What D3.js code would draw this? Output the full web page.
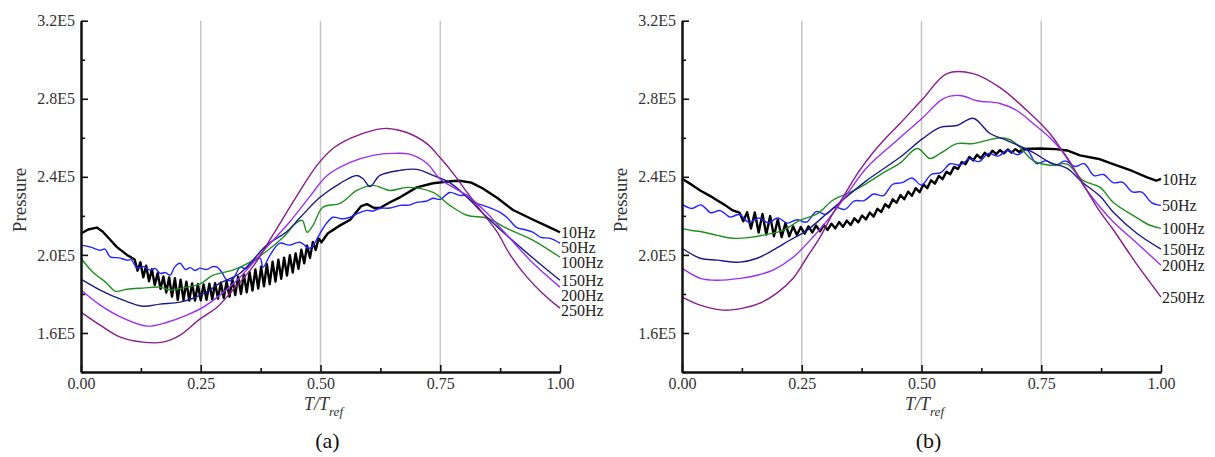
<!DOCTYPE html>
<html>
<head>
<meta charset="utf-8">
<script src="https://cdn.jsdelivr.net/npm/d3@7"></script>
<style>
  body { margin: 0; background: #fff; }
  svg { display: block; }
  text { font-family: "Liberation Serif", "Times New Roman", "DejaVu Serif", serif; }
</style>
</head>
<body>
<div id="chart"></div>
<script>
// pressure values are in units of 1E5, time is T/Tref
const seriesNames = ['10Hz', '50Hz', '100Hz', '150Hz', '200Hz', '250Hz'];
const xMajorTicks = [0, 0.25, 0.5, 0.75, 1];
const xMinorTicks = [0.125, 0.375, 0.625, 0.875];
const xGridLines = [0.25, 0.5, 0.75];
const yMajorTicks = [1.6, 2.0, 2.4, 2.8, 3.2];
const yMinorTicks = [1.4, 1.8, 2.2, 2.6, 3.0];
const panelTags = ['(a)', '(b)'];

// ---- panel (a)
const a10 = [
  [0, 2.11], [0.015, 2.13], [0.033, 2.14], [0.045, 2.12], [0.06, 2.08], [0.075, 2.04], [0.096, 2.0],
  [0.112, 1.976], [0.118, 1.919], [0.124, 1.962], [0.130, 1.885], [0.136, 1.945], [0.142, 1.865],
  [0.148, 1.926], [0.154, 1.846], [0.160, 1.906], [0.166, 1.826], [0.172, 1.889], [0.178, 1.807],
  [0.184, 1.885], [0.190, 1.787], [0.196, 1.881], [0.202, 1.770], [0.208, 1.873], [0.214, 1.768],
  [0.220, 1.863], [0.226, 1.766], [0.232, 1.854], [0.238, 1.766], [0.244, 1.850], [0.250, 1.767],
  [0.256, 1.849], [0.262, 1.770], [0.268, 1.852], [0.274, 1.773], [0.280, 1.855], [0.286, 1.776],
  [0.292, 1.858], [0.298, 1.779], [0.304, 1.864], [0.310, 1.786], [0.316, 1.876], [0.322, 1.794],
  [0.328, 1.888], [0.334, 1.800], [0.340, 1.900], [0.346, 1.808], [0.352, 1.912], [0.358, 1.817],
  [0.364, 1.925], [0.370, 1.828], [0.376, 1.939], [0.382, 1.839], [0.388, 1.952], [0.394, 1.850],
  [0.400, 1.965], [0.406, 1.863], [0.412, 1.976], [0.418, 1.878], [0.424, 1.986], [0.430, 1.894],
  [0.436, 1.998], [0.442, 1.909], [0.448, 2.008], [0.454, 1.929], [0.460, 2.027], [0.466, 1.957],
  [0.472, 2.047], [0.478, 1.985], [0.484, 2.066], [0.490, 2.025], [0.496, 2.084], [0.502, 2.065],
  [0.515, 2.11], [0.54, 2.15], [0.562, 2.18], [0.585, 2.25], [0.597, 2.26], [0.612, 2.24],
  [0.624, 2.24], [0.645, 2.27], [0.666, 2.295], [0.701, 2.346], [0.735, 2.367], [0.77, 2.377],
  [0.79, 2.38], [0.815, 2.37], [0.839, 2.34], [0.87, 2.29], [0.902, 2.23], [0.944, 2.18],
  [0.975, 2.145], [1, 2.116]
];
const a50 = [
  [0, 2.05], [0.02, 2.04], [0.04, 2.024], [0.05, 2.03], [0.061, 1.99], [0.08, 1.985], [0.096, 1.973],
  [0.105, 1.975], [0.117, 1.932], [0.13, 1.94], [0.144, 1.922], [0.155, 1.93], [0.165, 1.905],
  [0.176, 1.91], [0.186, 1.896], [0.196, 1.94], [0.207, 1.957], [0.218, 1.925], [0.228, 1.935],
  [0.238, 1.92], [0.248, 1.932], [0.262, 1.925], [0.275, 1.94], [0.284, 1.937], [0.294, 1.911],
  [0.305, 1.87], [0.317, 1.875], [0.325, 1.91], [0.332, 1.937], [0.345, 1.93], [0.36, 1.965],
  [0.374, 1.983], [0.38, 1.937], [0.395, 2.0], [0.415, 2.06], [0.435, 2.05], [0.457, 2.065],
  [0.478, 2.034], [0.499, 2.11], [0.512, 2.16], [0.526, 2.193], [0.545, 2.185], [0.562, 2.193],
  [0.58, 2.215], [0.597, 2.228], [0.61, 2.225], [0.624, 2.239], [0.645, 2.24], [0.666, 2.254],
  [0.685, 2.255], [0.701, 2.269], [0.72, 2.275], [0.735, 2.29], [0.75, 2.285], [0.77, 2.32],
  [0.79, 2.305], [0.806, 2.305], [0.82, 2.27], [0.839, 2.254], [0.855, 2.24], [0.875, 2.218],
  [0.89, 2.19], [0.91, 2.14], [0.925, 2.13], [0.944, 2.116], [0.96, 2.09], [0.98, 2.085], [1, 2.06]
];
const a100 = [
  [0, 1.983], [0.025, 1.911], [0.054, 1.855], [0.071, 1.814], [0.096, 1.824], [0.129, 1.83],
  [0.165, 1.835], [0.186, 1.82], [0.221, 1.835], [0.248, 1.85], [0.276, 1.896], [0.317, 1.922],
  [0.353, 1.963], [0.388, 2.02], [0.422, 2.09], [0.45, 2.165], [0.462, 2.177], [0.472, 2.116],
  [0.484, 2.15], [0.505, 2.244], [0.541, 2.264], [0.576, 2.33], [0.61, 2.356], [0.645, 2.33],
  [0.681, 2.346], [0.735, 2.32], [0.77, 2.254], [0.806, 2.203], [0.848, 2.188], [0.889, 2.136],
  [0.944, 2.075], [1, 1.988]
];
const a150 = [
  [0, 1.876], [0.04, 1.82], [0.088, 1.768], [0.129, 1.737], [0.165, 1.748], [0.207, 1.758],
  [0.234, 1.778], [0.263, 1.81], [0.29, 1.855], [0.332, 1.906], [0.388, 2.05], [0.43, 2.12],
  [0.457, 2.19], [0.499, 2.295], [0.541, 2.367], [0.576, 2.407], [0.589, 2.39], [0.603, 2.35],
  [0.624, 2.407], [0.666, 2.433], [0.701, 2.438], [0.735, 2.407], [0.77, 2.37], [0.806, 2.295],
  [0.839, 2.213], [0.875, 2.13], [0.944, 1.983], [1, 1.87]
];
const a200 = [
  [0, 1.82], [0.04, 1.743], [0.088, 1.676], [0.138, 1.635], [0.18, 1.655], [0.221, 1.691],
  [0.255, 1.732], [0.29, 1.794], [0.332, 1.886], [0.388, 2.04], [0.436, 2.17], [0.478, 2.30],
  [0.514, 2.407], [0.562, 2.474], [0.61, 2.51], [0.651, 2.52], [0.687, 2.515], [0.722, 2.47],
  [0.749, 2.39], [0.777, 2.346], [0.806, 2.305], [0.848, 2.213], [0.875, 2.14], [0.944, 1.957],
  [1, 1.835]
];
const a250 = [
  [0, 1.707], [0.04, 1.64], [0.081, 1.58], [0.129, 1.553], [0.171, 1.553], [0.207, 1.589],
  [0.248, 1.671], [0.284, 1.732], [0.317, 1.82], [0.359, 1.94], [0.40, 2.10], [0.45, 2.30],
  [0.493, 2.46], [0.526, 2.545], [0.562, 2.597], [0.61, 2.638], [0.639, 2.648], [0.68, 2.627],
  [0.722, 2.57], [0.749, 2.5], [0.777, 2.418], [0.806, 2.32], [0.839, 2.213], [0.868, 2.12],
  [0.896, 2.0], [0.931, 1.886], [0.965, 1.8], [1, 1.727]
];

// ---- panel (b)
const b10 = [
  [0, 2.39], [0.02, 2.36], [0.038, 2.33], [0.06, 2.30], [0.073, 2.28], [0.09, 2.255], [0.106, 2.228],
  [0.120, 2.217], [0.128, 2.172], [0.136, 2.219], [0.144, 2.135], [0.152, 2.217], [0.160, 2.115],
  [0.168, 2.210], [0.176, 2.104], [0.184, 2.199], [0.192, 2.095], [0.200, 2.183], [0.208, 2.091],
  [0.216, 2.163], [0.224, 2.095], [0.232, 2.146], [0.240, 2.102], [0.248, 2.143], [0.256, 2.109],
  [0.264, 2.146], [0.272, 2.115], [0.280, 2.150], [0.288, 2.121], [0.296, 2.153], [0.304, 2.128],
  [0.312, 2.160], [0.320, 2.136], [0.328, 2.168], [0.336, 2.144], [0.344, 2.176], [0.352, 2.153],
  [0.360, 2.188], [0.368, 2.167], [0.376, 2.202], [0.384, 2.182], [0.392, 2.217], [0.400, 2.196],
  [0.408, 2.236], [0.416, 2.220], [0.424, 2.260], [0.432, 2.243], [0.440, 2.285], [0.448, 2.267],
  [0.456, 2.307], [0.464, 2.285], [0.472, 2.324], [0.480, 2.303], [0.488, 2.342], [0.496, 2.321],
  [0.504, 2.361], [0.512, 2.342], [0.520, 2.382], [0.528, 2.365], [0.536, 2.404], [0.544, 2.388],
  [0.552, 2.426], [0.560, 2.413], [0.568, 2.451], [0.576, 2.440], [0.584, 2.476], [0.592, 2.465],
  [0.600, 2.502], [0.608, 2.484], [0.616, 2.513], [0.624, 2.495], [0.632, 2.523], [0.640, 2.507],
  [0.648, 2.534], [0.656, 2.516], [0.664, 2.537], [0.672, 2.520], [0.680, 2.540], [0.688, 2.524],
  [0.696, 2.542], [0.704, 2.527], [0.712, 2.543],
  [0.747, 2.545], [0.78, 2.542], [0.804, 2.535], [0.831, 2.51], [0.873, 2.49], [0.9, 2.465],
  [0.94, 2.43], [0.971, 2.397], [0.99, 2.38], [1, 2.39]
];
const b50 = [
  [0, 2.26], [0.02, 2.238], [0.04, 2.256], [0.06, 2.216], [0.08, 2.227], [0.10, 2.194], [0.12, 2.207],
  [0.14, 2.166], [0.16, 2.189], [0.18, 2.165], [0.20, 2.189], [0.22, 2.163], [0.24, 2.18],
  [0.26, 2.168], [0.28, 2.222], [0.30, 2.208], [0.32, 2.244], [0.34, 2.233], [0.36, 2.277],
  [0.38, 2.278], [0.40, 2.312], [0.42, 2.303], [0.44, 2.362], [0.46, 2.37], [0.48, 2.394],
  [0.50, 2.358], [0.52, 2.412], [0.54, 2.421], [0.56, 2.467], [0.58, 2.46], [0.60, 2.492],
  [0.62, 2.478], [0.64, 2.52], [0.66, 2.506], [0.68, 2.537], [0.70, 2.513], [0.72, 2.537],
  [0.74, 2.468], [0.76, 2.482], [0.78, 2.458], [0.80, 2.482], [0.82, 2.453], [0.84, 2.467],
  [0.86, 2.406], [0.88, 2.412], [0.90, 2.37], [0.92, 2.372], [0.94, 2.323], [0.96, 2.322],
  [0.98, 2.268], [1, 2.254]
];
const b100 = [
  [0, 2.136], [0.02, 2.125], [0.038, 2.12], [0.073, 2.1], [0.106, 2.085], [0.142, 2.09],
  [0.177, 2.105], [0.211, 2.126], [0.246, 2.177], [0.282, 2.21], [0.315, 2.28], [0.351, 2.32],
  [0.386, 2.367], [0.42, 2.42], [0.455, 2.47], [0.491, 2.545], [0.518, 2.494], [0.539, 2.52],
  [0.574, 2.57], [0.608, 2.57], [0.637, 2.587], [0.664, 2.6], [0.685, 2.59], [0.706, 2.55],
  [0.733, 2.484], [0.768, 2.459], [0.804, 2.465], [0.837, 2.382], [0.873, 2.346], [0.9, 2.27],
  [0.95, 2.19], [0.977, 2.152], [1, 2.136]
];
const b150 = [
  [0, 2.034], [0.038, 1.983], [0.073, 1.973], [0.121, 1.963], [0.157, 1.983], [0.19, 2.024],
  [0.225, 2.075], [0.261, 2.126], [0.303, 2.213], [0.33, 2.27], [0.386, 2.382], [0.455, 2.5],
  [0.503, 2.597], [0.539, 2.653], [0.574, 2.663], [0.608, 2.7], [0.643, 2.622], [0.678, 2.587],
  [0.733, 2.525], [0.768, 2.474], [0.804, 2.443], [0.837, 2.37], [0.873, 2.3], [0.9, 2.22],
  [0.95, 2.11], [1, 2.03]
];
const b200 = [
  [0, 1.932], [0.038, 1.88], [0.073, 1.87], [0.121, 1.88], [0.157, 1.896], [0.19, 1.922],
  [0.232, 1.988], [0.273, 2.09], [0.315, 2.213], [0.35, 2.33], [0.386, 2.448], [0.455, 2.6],
  [0.503, 2.704], [0.545, 2.8], [0.58, 2.817], [0.616, 2.79], [0.664, 2.776], [0.699, 2.74],
  [0.733, 2.673], [0.768, 2.6], [0.804, 2.5], [0.837, 2.36], [0.873, 2.244], [0.9, 2.17],
  [0.95, 2.06], [1, 1.947]
];
const b250 = [
  [0, 1.784], [0.038, 1.743], [0.086, 1.717], [0.127, 1.727], [0.163, 1.753], [0.198, 1.804],
  [0.232, 1.88], [0.261, 1.988], [0.288, 2.09], [0.315, 2.213], [0.336, 2.295], [0.37, 2.43],
  [0.399, 2.525], [0.43, 2.61], [0.455, 2.673], [0.503, 2.8], [0.553, 2.929], [0.608, 2.929],
  [0.664, 2.857], [0.72, 2.74], [0.768, 2.622], [0.816, 2.448], [0.873, 2.22], [0.9, 2.13],
  [0.95, 1.95], [1, 1.784]
];

const seriesColors = ['#000000', '#2323ff', '#1f8f1f', '#1c1c86', '#9b2ff0', '#8b1c8b'];
const width = 1215;
const height = 457;

const svg = d3
  .select('#chart')
  .append('svg')
  .attr('width', width)
  .attr('height', height);

svg.append('rect').attr('width', width).attr('height', height).attr('fill', '#fff');

drawPanel.call(svg.append('g'), {
  left: 81,
  series: [a10, a50, a100, a150, a200, a250],
  tag: panelTags[0]
});
drawPanel.call(svg.append('g'), {
  left: 682,
  series: [b10, b50, b100, b150, b200, b250],
  tag: panelTags[1]
});

/**
 * drawPanel - one pressure / time plot
 *
 * @param  {object} params left edge of the plot area, six series, panel tag
 */
function drawPanel(params) {
  const {left, series, tag} = params;
  const self = this;
  const plotW = 479;
  const top = 20.7;
  const bottom = 372;

  const xCoord = d3.scaleLinear().domain([0, 1]).range([left, left + plotW]);
  const yCoord = d3.scaleLinear().domain([1.4, 3.2]).range([bottom, top]);

  // grey guide lines
  self
    .selectAll('.grid')
    .data(xGridLines)
    .enter()
    .append('line')
    .attr('x1', (d) => xCoord(d))
    .attr('x2', (d) => xCoord(d))
    .attr('y1', yCoord(3.2))
    .attr('y2', yCoord(1.4))
    .attr('stroke', '#c6c6c6')
    .attr('stroke-width', 1.5);

  const drawLine = d3
    .line()
    .x((d) => xCoord(d[0]))
    .y((d) => yCoord(d[1]));

  series.forEach((data, i) => {
    self
      .append('path')
      .datum(data)
      .attr('d', drawLine.curve(i === 0 ? d3.curveLinear : d3.curveCatmullRom.alpha(0.5)))
      .attr('fill', 'none')
      .attr('stroke', seriesColors[i])
      .attr('stroke-width', i === 0 ? 2.4 : 1.4)
      .attr('stroke-linejoin', 'round');
  });

  // end labels sit at each series' last value, pushed apart a little
  let prevY = -Infinity;
  series.forEach((data, i) => {
    const y = Math.max(yCoord(data[data.length - 1][1]), prevY + 15);
    prevY = y;
    self
      .append('text')
      .attr('x', xCoord(1) + 1)
      .attr('y', y)
      .attr('dy', '0.38em')
      .attr('font-size', 16)
      .attr('fill', '#222')
      .text(seriesNames[i]);
  });

  // axes, ticks point into the plot
  const xAxis = d3.axisBottom(xCoord)
    .tickValues(xMajorTicks)
    .tickFormat(d3.format('.2f'))
    .tickSizeInner(-7)
    .tickSizeOuter(0)
    .tickPadding(6);
  const xMinor = d3.axisBottom(xCoord)
    .tickValues(xMinorTicks)
    .tickFormat('')
    .tickSizeInner(-4)
    .tickSizeOuter(0);
  const yAxis = d3.axisLeft(yCoord)
    .tickValues(yMajorTicks)
    .tickFormat((d) => d3.format('.1f')(d) + 'E5')
    .tickSizeInner(-7)
    .tickSizeOuter(0)
    .tickPadding(6);
  const yMinor = d3.axisLeft(yCoord)
    .tickValues(yMinorTicks)
    .tickFormat('')
    .tickSizeInner(-4)
    .tickSizeOuter(0);

  [[xMinor, 'x'], [yMinor, 'y'], [xAxis, 'x'], [yAxis, 'y']].forEach(([ax, dir]) => {
    const g = self
      .append('g')
      .attr('transform', dir === 'x' ? 'translate(0,' + bottom + ')' : 'translate(' + left + ',0)')
      .call(ax);
    g.attr('font-family', null);
    g.select('.domain').attr('stroke', '#111').attr('stroke-width', 2);
    g.selectAll('.tick line').attr('stroke', '#111').attr('stroke-width', 1.6);
    g.selectAll('.tick text')
      .attr('font-size', 16)
      .attr('fill', '#333');
  });

  // axis titles
  self
    .append('text')
    .attr('transform', 'translate(' + (left - 62) + ',' + 200 + ') rotate(-90)')
    .attr('text-anchor', 'middle')
    .attr('dy', '0.35em')
    .attr('font-size', 19)
    .attr('fill', '#333')
    .text('Pressure');

  const xTitle = self
    .append('text')
    .attr('x', xCoord(0.5) + 3)
    .attr('y', 410)
    .attr('text-anchor', 'middle')
    .attr('font-size', 18)
    .attr('font-style', 'italic')
    .attr('fill', '#333');
  xTitle.append('tspan').text('T/T');
  xTitle.append('tspan').attr('dy', 6).attr('font-size', 13).text('ref');

  self
    .append('text')
    .attr('x', xCoord(0.5) + 7)
    .attr('y', 448)
    .attr('text-anchor', 'middle')
    .attr('font-size', 22)
    .attr('fill', '#111')
    .text(tag);
}
</script>
</body>
</html>
